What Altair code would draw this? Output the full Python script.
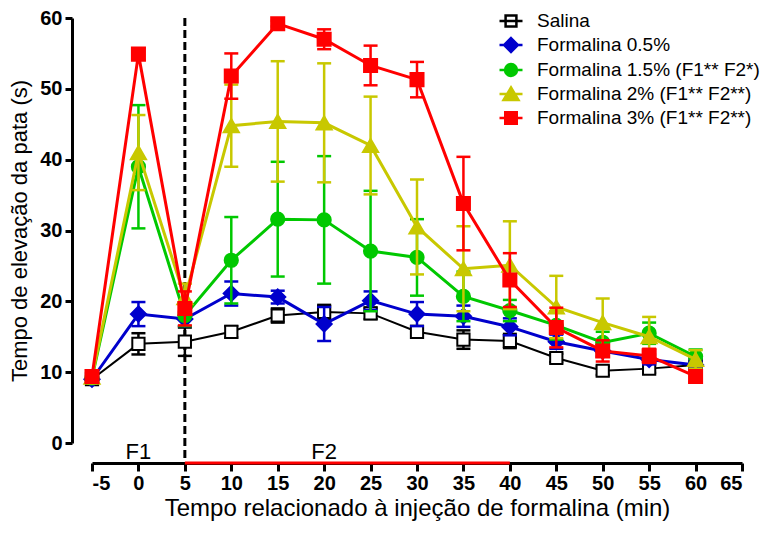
import altair as alt
import pandas as pd

# ---------------- data ----------------
times = [-5, 0, 5, 10, 15, 20, 25, 30, 35, 40, 45, 50, 55, 60]
x_ticks = [-5, 0, 5, 10, 15, 20, 25, 30, 35, 40, 45, 50, 55, 60, 65]
y_ticks = [0, 10, 20, 30, 40, 50, 60]

series_names = [
    "Salina",
    "Formalina 0.5%",
    "Formalina 1.5% (F1** F2*)",
    "Formalina 2% (F1** F2**)",
    "Formalina 3% (F1** F2**)",
]

salina = [9.0, 14.0, 14.3, 15.7, 18.0, 18.5, 18.3, 15.7, 14.6, 14.4, 12.0, 10.2, 10.5, 11.0]
salina_err = [0.5, 1.5, 2.0, 0.8, 1.0, 1.0, 0.8, 0.8, 1.3, 1.0, 0.6, 0.6, 0.6, 0.6]

f05 = [9.0, 18.2, 17.5, 21.1, 20.6, 16.8, 20.1, 18.2, 17.9, 16.4, 14.3, 13.0, 11.8, 11.0]
f05_err = [0.4, 1.7, 1.0, 1.7, 0.9, 2.4, 1.3, 1.7, 1.5, 1.2, 1.0, 0.8, 0.7, 0.5]

f15 = [9.2, 39.0, 18.0, 25.8, 31.6, 31.5, 27.1, 26.2, 20.7, 18.7, 16.6, 14.2, 15.5, 12.2]
f15_err = [0.4, 8.7, 1.5, 6.1, 8.1, 9.0, 8.5, 5.4, 3.5, 1.5, 2.0, 1.5, 1.5, 1.0]

f2 = [9.3, 41.0, 20.5, 44.8, 45.4, 45.2, 42.0, 30.5, 24.6, 25.1, 19.2, 17.0, 15.0, 11.8]
f2_err = [0.4, 5.3, 2.0, 5.8, 8.5, 8.4, 6.9, 6.7, 6.0, 6.2, 4.4, 3.4, 2.8, 1.3]

f3 = [9.4, 54.9, 19.0, 51.8, 59.2, 57.0, 53.3, 51.3, 33.8, 23.0, 16.3, 13.0, 12.3, 9.4]
f3_err = [0.5, 0.8, 2.4, 3.2, 0.4, 1.4, 2.8, 2.5, 6.6, 3.8, 2.8, 1.5, 1.0, 0.8]

phase_labels = ["F1", "F2"]
phase_label_t = [0, 20]
phase_label_y = [-1.3, -1.3]
phase_boundary = [5]
f2_segment_start = [5]
f2_segment_end = [40]

means = [salina, f05, f15, f2, f3]
errs = [salina_err, f05_err, f15_err, f2_err, f3_err]

# ---------------- styles ----------------
FONT = "Liberation Sans"
colors = ["#000000", "#0000CC", "#00C800", "#C8C800", "#FF0000"]
fills = ["#FFFFFF", "#0000CC", "#00C800", "#C8C800", "#FF0000"]
plot_shapes = ["square", "diamond", "circle", "triangle-up", "square"]
plot_sizes = [150, 230, 175, 230, 170]
line_widths = [2, 3, 3, 3, 3]
legend_shapes = [
    "M-1,0H1M-0.47,-0.47H0.47V0.47H-0.47Z",
    "M-1,0H1M0,-0.6L0.6,0L0,0.6L-0.6,0Z",
    "M-1,0H1M0.52,0A0.52,0.52,0,1,1,-0.52,0A0.52,0.52,0,1,1,0.52,0Z",
    "M-1,0H1M0,-0.57L0.65,0.52H-0.65Z",
    "M-1,0H1M-0.5,-0.5H0.5V0.5H-0.5Z",
]

rows = []
for name, m, e in zip(series_names, means, errs):
    for t, v, s in zip(times, m, e):
        rows.append({"series": name, "t": t, "mean": v, "lo": v - s, "hi": v + s})
df = pd.DataFrame(rows)

W, H = 650, 425
OFF = 20

xscale = alt.Scale(domain=[-5, 65], nice=False, zero=False)
yscale = alt.Scale(domain=[0, 60], nice=False, zero=False)

x_axis = alt.Axis(
    values=x_ticks, title="Tempo relacionado à injeção de formalina (min)",
    labelExpr="'' + datum.value",
    offset=OFF, grid=False, labelFontWeight="bold", labelFontSize=20,
    labelPadding=2, tickSize=8, tickWidth=3, domainWidth=3,
    titleFontSize=24, titleFontWeight="normal", titlePadding=3,
    domainColor="black", tickColor="black", labelColor="black", titleColor="black",
)
y_axis = alt.Axis(
    values=y_ticks, title="Tempo de elevação da pata (s)",
    offset=OFF, grid=False, labelFontWeight="bold", labelFontSize=20,
    labelPadding=3, tickSize=7, tickWidth=3, domainWidth=3,
    titleFontSize=22, titleFontWeight="normal", titlePadding=8,
    domainColor="black", tickColor="black", labelColor="black", titleColor="black",
)

X = alt.X("t:Q", scale=xscale, axis=x_axis)
Ymean = alt.Y("mean:Q", scale=yscale, axis=y_axis)

layers = []

# phase boundary (dashed) and F2 segment on the x axis
layers.append(
    alt.Chart(pd.DataFrame({"t": phase_boundary}))
    .mark_rule(color="black", strokeWidth=3, strokeDash=[8, 4])
    .encode(x=X, y=alt.value(0), y2=alt.value(H + OFF - 2))
)

for i, name in enumerate(series_names):
    base = alt.Chart(df).transform_filter(alt.datum.series == name)
    err = base.mark_rule(color=colors[i], strokeWidth=2.5).encode(
        x=X, y=alt.Y("lo:Q", scale=yscale, axis=y_axis), y2="hi:Q"
    )
    caps = (
        base.transform_fold(["lo", "hi"], as_=["end", "val"])
        .mark_tick(color=colors[i], orient="horizontal", size=14, thickness=2.5, opacity=1)
        .encode(x=X, y=alt.Y("val:Q", scale=yscale, axis=y_axis))
    )
    line = base.mark_line(color=colors[i], strokeWidth=line_widths[i]).encode(x=X, y=Ymean)
    pts = base.mark_point(
        shape=plot_shapes[i], size=plot_sizes[i], filled=True, fill=fills[i],
        stroke=colors[i], strokeWidth=2, opacity=1,
    ).encode(x=X, y=Ymean)
    layers += [err, caps, line, pts]

layers.append(
    alt.Chart(pd.DataFrame({"start": f2_segment_start, "end": f2_segment_end}))
    .mark_rule(color="#FF0000", strokeWidth=3)
    .encode(x=alt.X("start:Q", scale=xscale, axis=x_axis), x2="end:Q", y=alt.value(H + OFF))
)

layers.append(
    alt.Chart(pd.DataFrame({"label": phase_labels, "t": phase_label_t, "y": phase_label_y}))
    .mark_text(font=FONT, fontSize=22, color="black", baseline="middle", align="center")
    .encode(x=X, y=alt.Y("y:Q", scale=yscale, axis=y_axis), text="label:N")
)

leg = alt.Legend(
    title=None, orient="none", legendX=406, legendY=-10,
    symbolSize=529, symbolStrokeWidth=2.5, labelFontSize=19, labelFont=FONT,
    labelColor="black", labelOffset=13, rowPadding=0, padding=0, labelLimit=500,
)
legend_layer = (
    alt.Chart(df)
    .transform_filter("false")
    .mark_point(filled=True, opacity=1)
    .encode(
        x=X, y=Ymean,
        shape=alt.Shape("series:N", scale=alt.Scale(domain=series_names, range=legend_shapes), legend=leg),
        stroke=alt.Stroke("series:N", scale=alt.Scale(domain=series_names, range=colors), legend=leg),
        fill=alt.Fill("series:N", scale=alt.Scale(domain=series_names, range=fills), legend=leg),
    )
)
layers.append(legend_layer)

chart = (
    alt.layer(*layers)
    .properties(
        width=W, height=H,
        autosize=alt.AutoSizeParams(type="none"),
        padding={"left": 84, "top": 10, "right": 23, "bottom": 80},
    )
    .configure_view(stroke=None)
    .configure_axis(labelFont=FONT, titleFont=FONT)
    .configure_legend(labelFont=FONT)
)

chart.save("out.html", embed_options={"renderer": "svg", "actions": False})
